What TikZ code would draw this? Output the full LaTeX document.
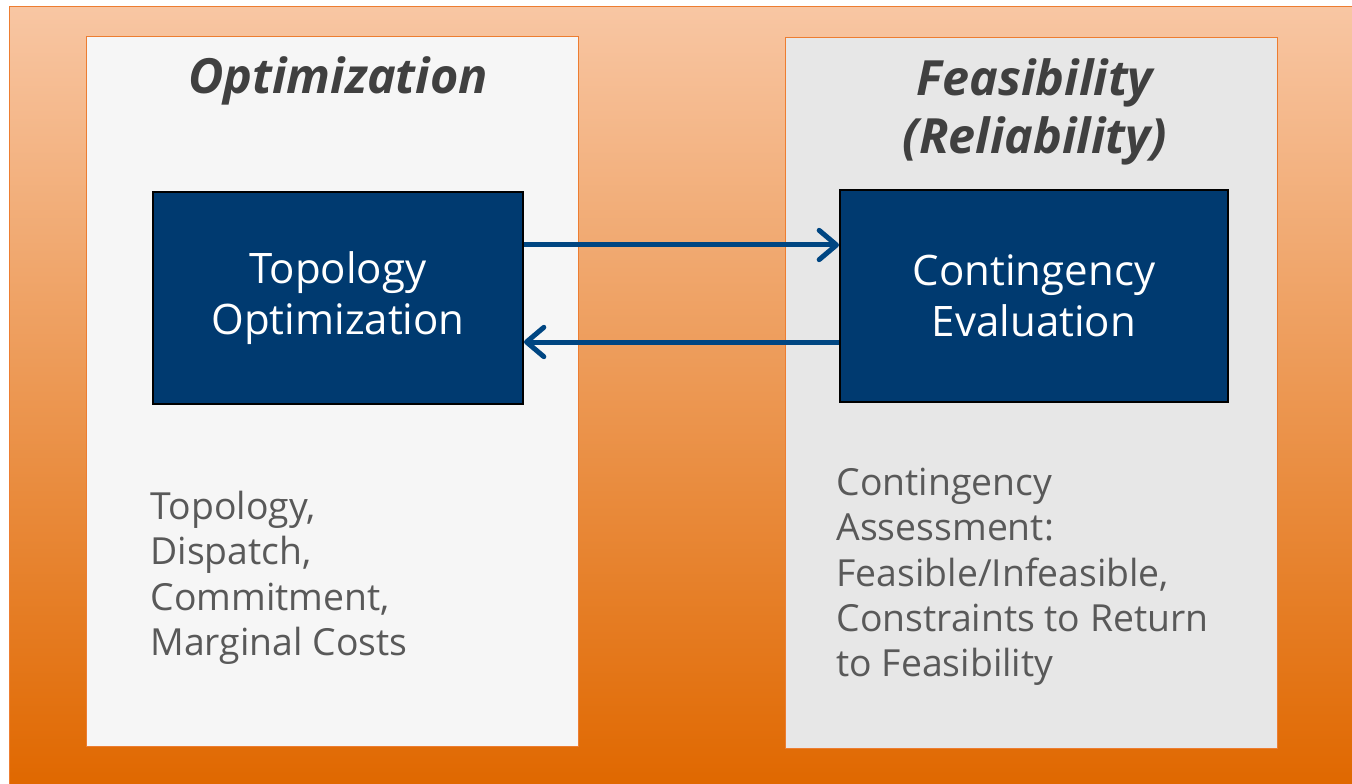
\documentclass[tikz,border=0pt]{standalone}
\usepackage{fontspec}
\setmainfont{Open Sans}
\usetikzlibrary{arrows.meta,calc}

\definecolor{slidetop}{RGB}{248,198,163}
\definecolor{slidemid}{RGB}{243,160,85}
\definecolor{slidebot}{RGB}{224,104,0}
\definecolor{edgeorange}{RGB}{237,125,49}
\definecolor{navy}{RGB}{0,58,112}
\definecolor{flowblue}{RGB}{0,70,130}
\definecolor{titlegray}{RGB}{64,64,64}
\definecolor{notegray}{RGB}{89,89,89}

\tikzset{every picture/.style={line width=0.75pt}}

\begin{document}
\begin{tikzpicture}[x=0.75pt,y=0.75pt,yscale=-1,xscale=1,
  panel/.style={draw=edgeorange,line width=0.75pt},
  stage/.style={draw=black,line width=1.5pt,fill=navy,text=white,align=center,inner sep=0pt,
    font=\fontsize{31.5}{38}\selectfont},
  flow/.style={draw=flowblue,line width=3.75pt,
    -{Straight Barb[length=13pt,width=22pt,line cap=round,line join=round]}},
  heading/.style={text=titlegray,align=center,inner sep=0pt,
    font=\fontsize{36.4}{43.5}\selectfont\bfseries\itshape},
  notes/.style={text=notegray,align=left,anchor=north west,inner sep=0pt,
    font=\fontsize{28}{33.8}\selectfont}]
\useasboundingbox (0,0) rectangle (1352,784);

%Shape: Rectangle (slide background)
\shade [top color=slidetop,middle color=slidemid,bottom color=slidebot] (9,7) rectangle (1352,784);
\draw [edgeorange] (9,784) -- (9,7) -- (1352,7);

%Shape: Rectangle (left panel)
\draw [panel,fill={rgb,255:red,246;green,246;blue,246}] (86,37) rectangle (578,746);
%Shape: Rectangle (right panel)
\draw [panel,fill={rgb,255:red,231;green,231;blue,231}] (785,38) rectangle (1277,748);

% Text Node
\node [heading] (opt) at (338,81) {Optimization};
% Text Node
\node [heading] (feas) at (1035,112) {Feasibility\\(Reliability)};

% Stage boxes
\node [stage,minimum width=277.5pt,minimum height=159pt] (topo) at (338,298) {Topology\\Optimization};
\node [stage,minimum width=291pt,minimum height=159pt] (cont) at (1034,296) {Contingency\\Evaluation};

%Straight Lines
\draw [flow] ($(topo.east)+(0,-53)$) -- ($(cont.west)+(0,-51)$);
%Straight Lines
\draw [flow] ($(cont.west)+(0,46)$) -- ($(topo.east)+(0,44)$);

% Text Node
\node [notes] (outs) at (150,491) {Topology,\\Dispatch,\\Commitment,\\Marginal Costs};
% Text Node
\node [notes] (assess) at (836,468) {Contingency\\Assessment:\\Feasible/Infeasible,\\Constraints to Return\\to Feasibility};

\end{tikzpicture}
\end{document}
